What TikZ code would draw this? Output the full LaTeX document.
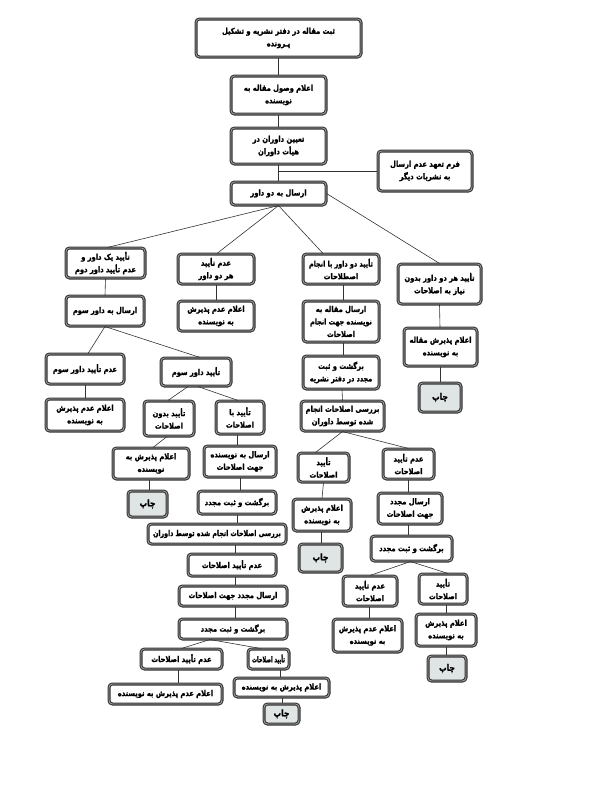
\documentclass[tikz,border=0pt]{standalone}
\usepackage{fontspec}
\usepackage{graphicx}
\usetikzlibrary{calc}
\TeXXeTstate=1
\newfontfamily\fa[Script=Arabic, BoldFont={DejaVu Sans Bold}, BoldFeatures={FakeBold=1.6}]{DejaVu Sans}
\newcommand{\RL}[2][0.84]{\scalebox{#1}[1]{\beginR #2\endR}}
\definecolor{bord}{HTML}{333333}
\definecolor{ring}{HTML}{A8A8A8}
\definecolor{chapfill}{HTML}{DFE4E4}
\begin{document}
\begin{tikzpicture}[x=1pt,y=-1pt,
  box/.style={draw=bord, line width=1.1pt, double=ring, double distance=0.8pt,
    rounded corners=3.5pt, fill=white, align=center, inner sep=1pt,
    font=\fa\bfseries\fontsize{8}{12.5}\selectfont},
  chap/.style={box, fill=chapfill, font=\fa\bfseries\fontsize{9}{12}\selectfont},
  link/.style={draw=black!80, line width=0.6pt}]
\useasboundingbox[fill=white] (0,0) rectangle (591,790);

% top chain
\node[box, minimum width=165pt, minimum height=38pt] (n1) at (278.5,38) {\RL{ثبت مقاله در دفتر نشریه و تشکیل}\\\RL{پـرونده}};
\node[box, minimum width=95pt, minimum height=38pt] (n2) at (278.5,95) {\RL{اعلام وصول مقاله به}\\\RL{نویسنده}};
\node[box, minimum width=95pt, minimum height=36pt] (n3) at (278.5,146) {\RL{تعیین داوران در}\\\RL{هیأت داوران}};
\node[box, minimum width=94pt, minimum height=40pt] (side) at (425,171) {\RL{فرم تعهد عدم ارسال}\\\RL{به نشریات دیگر}};
\node[box, minimum width=95pt, minimum height=23pt] (n4) at (278.5,193.5) {\RL{ارسال به دو داور}};

% level 2
\node[box, minimum width=79pt, minimum height=30pt] (A) at (105.5,263) {\RL{تأیید یک داور و}\\\RL{عدم تأیید داور دوم}};
\node[box, minimum width=76pt, minimum height=30pt] (B) at (216,269) {\RL{عدم تأیید}\\\RL{هر دو داور}};
\node[box, minimum width=76pt, minimum height=30pt] (C) at (341,269) {\RL[0.8]{تأیید دو داور با انجام}\\\RL{اصطلاحات}};
\node[box, minimum width=83pt, minimum height=40pt] (D) at (439.5,284) {\RL{تأیید هر دو داور بدون}\\\RL{نیاز به اصلاحات}};

\node[box, minimum width=78pt, minimum height=30pt] (A2) at (105,311) {\RL{ارسال به داور سوم}};
\node[box, minimum width=76pt, minimum height=30pt] (B2) at (216,316) {\RL{اعلام عدم پذیرش}\\\RL{به نویسنده}};
\node[box, minimum width=76pt, minimum height=41pt] (C2) at (341,321.5) {\RL{ارسال مقاله به}\\\RL[0.8]{نویسنده جهت انجام}\\\RL{اصلاحات}};
\node[box, minimum width=76pt, minimum height=33pt] (C3) at (341,372.5) {\RL{برگشت و ثبت}\\\RL[0.8]{مجدد در دفتر نشریه}};
\node[box, minimum width=73pt, minimum height=38pt] (D2) at (440.5,347) {\RL{اعلام پذیرش مقاله}\\\RL{به نویسنده}};
\node[chap, minimum width=42pt, minimum height=29pt] (D3) at (440,397.5) {\RL{چاپ}};

% middle-right chain
\node[box, minimum width=83pt, minimum height=30pt] (C4) at (342.5,416) {\RL{بررسی اصلاحات انجام}\\\RL{شده توسط داوران}};
\node[box, minimum width=51pt, minimum height=29pt] (C5) at (323.5,467.5) {\RL{تأیید}\\\RL{اصلاحات}};
\node[box, minimum width=51pt, minimum height=30pt] (C6) at (408.5,464) {\RL{عدم تأیید}\\\RL{اصلاحات}};
\node[box, minimum width=58pt, minimum height=32pt] (C7) at (322,515) {\RL{اعلام پذیرش}\\\RL{به نویسنده}};
\node[chap, minimum width=43pt, minimum height=28pt] (C8) at (320.5,558) {\RL{چاپ}};
\node[box, minimum width=64pt, minimum height=31pt] (C9) at (410,508.5) {\RL{ارسال مجدد}\\\RL{جهت اصلاحات}};
\node[box, minimum width=81pt, minimum height=25pt] (C10) at (411.5,548.5) {\RL{برگشت و ثبت مجدد}};
\node[box, minimum width=54pt, minimum height=30pt] (C11) at (370,591) {\RL{عدم تأیید}\\\RL{اصلاحات}};
\node[box, minimum width=48pt, minimum height=30pt] (C12) at (443,589) {\RL{تأیید}\\\RL{اصلاحات}};
\node[box, minimum width=69pt, minimum height=33pt] (C13) at (367.5,635.5) {\RL{اعلام عدم پذیرش}\\\RL{به نویسنده}};
\node[box, minimum width=60pt, minimum height=32pt] (C14) at (446,630) {\RL{اعلام پذیرش}\\\RL{به نویسنده}};
\node[chap, minimum width=38pt, minimum height=25pt] (C15) at (447,668.5) {\RL{چاپ}};

% left chain
\node[box, minimum width=78pt, minimum height=30pt] (L1) at (85,369) {\RL{عدم تأیید داور سوم}};
\node[box, minimum width=70pt, minimum height=28pt] (L2) at (196,372) {\RL{تأیید داور سوم}};
\node[box, minimum width=78pt, minimum height=32pt] (L3) at (85,415) {\RL{اعلام عدم پذیرش}\\\RL{به نویسنده}};
\node[box, minimum width=50pt, minimum height=35pt] (L4) at (169,418.5) {\RL{تأیید بدون}\\\RL{اصلاحات}};
\node[box, minimum width=48pt, minimum height=33pt] (L5) at (240,417.5) {\RL{تأیید با}\\\RL{اصلاحات}};
\node[box, minimum width=76pt, minimum height=31pt] (L6) at (151,463.5) {\RL{اعلام پذیرش به}\\\RL{نویسنده}};
\node[chap, minimum width=39pt, minimum height=26pt] (L7) at (147.5,504) {\RL{چاپ}};
\node[box, minimum width=72pt, minimum height=31pt] (L8) at (240,461.5) {\RL{ارسال به نویسنده}\\\RL{جهت اصلاحات}};
\node[box, minimum width=78pt, minimum height=23pt] (L9) at (237,502.5) {\RL{برگشت و ثبت مجدد}};
\node[box, minimum width=138pt, minimum height=20pt] (L10) at (217,534) {\RL[0.78]{بررسی اصلاحات انجام شده توسط داوران}};
\node[box, minimum width=88pt, minimum height=22pt] (L11) at (232,565) {\RL{عدم تأیید اصلاحات}};
\node[box, minimum width=108pt, minimum height=20pt] (L12) at (233,596) {\RL{ارسال مجدد جهت اصلاحات}};
\node[box, minimum width=108pt, minimum height=20pt] (L13) at (233,629) {\RL{برگشت و ثبت مجدد}};
\node[box, minimum width=81pt, minimum height=20pt] (L14) at (181.5,659) {\RL{عدم تأیید اصلاحات}};
\node[box, minimum width=41pt, minimum height=20pt] (L15) at (268.5,659) {\RL[0.62]{تأیید اصلاحات}};
\node[box, minimum width=113pt, minimum height=20pt] (L16) at (165.5,694) {\RL{اعلام عدم پذیرش به نویسنده}};
\node[box, minimum width=95pt, minimum height=19pt] (L17) at (281.5,687.5) {\RL{اعلام پذیرش به نویسنده}};
\node[chap, minimum width=35pt, minimum height=20pt] (L18) at (281.5,714) {\RL{چاپ}};

% connectors
\draw[link] (n1.south) -- (n2.north);
\draw[link] (n2.south) -- (n3.north);
\draw[link] (n3.south) -- (n4.north);
\coordinate (j) at (n3.south |- side.west);
\draw[link] (j) -- (side.west);

\draw[link] (n4.south) -- ($(A.north)+(2,0)$);
\draw[link] (n4.south) -- ($(B.north)+(1,0)$);
\draw[link] (n4.south) -- ($(C.north)+(-18,0)$);
\draw[link] (n4.east) -- (D.north);

\draw[link] (A.south) -- (A2.north);
\draw[link] (B.south) -- (B2.north);
\draw[link] ($(C.south)+(2,0)$) -- ($(C2.north)+(2,0)$);
\draw[link] ($(C2.south)+(2,0)$) -- ($(C3.north)+(2,0)$);
\draw[link] ($(C3.south)+(1,0)$) -- (C4.north);
\draw[link] (D.south) -- ($(D2.north)+(-0.5,0)$);
\draw[link] (D2.south) -- ($(D3.north)+(0.5,0)$);

\draw[link] (C4.south) -- ($(C5.north)+(-8,0)$);
\draw[link] (C4.south) -- (C6.north);
\draw[link] (C5.south) -- (C7.north);
\draw[link] ($(C7.south)+(-1,0)$) -- ($(C8.north)+(0.5,0)$);
\draw[link] (C6.south) -- ($(C9.north)+(-1.5,0)$);
\draw[link] ($(C9.south)+(-2,0)$) -- ($(C10.north)+(-3.5,0)$);
\draw[link] ($(C10.south)+(-1,0)$) -- (C11.north);
\draw[link] ($(C10.south)+(-1,0)$) -- ($(C12.north)+(5,0)$);
\draw[link] ($(C11.south)+(-1,0)$) -- ($(C13.north)+(1.5,0)$);
\draw[link] ($(C12.south)+(3,0)$) -- (C14.north);
\draw[link] (C14.south) -- ($(C15.north)+(-1,0)$);

\draw[link] (A2.south) -- ($(L1.north)+(3,0)$);
\draw[link] (A2.south) -- ($(L2.north)+(4,0)$);
\draw[link] (L1.south) -- (L3.north);
\draw[link] ($(L2.south)+(-8,0)$) -- ($(L4.north)+(-1,0)$);
\draw[link] ($(L2.south)+(2,0)$) -- ($(L5.north)+(-2,0)$);
\draw[link] ($(L4.south)+(-2,0)$) -- ($(L6.north)+(2,0)$);
\draw[link] ($(L6.south)+(-2,0)$) -- ($(L7.north)+(1.5,0)$);
\draw[link] ($(L5.south)+(-3,0)$) -- ($(L8.north)+(-3,0)$);
\draw[link] (L8.south) -- ($(L9.north)+(3,0)$);
\draw[link] (L9.south) -- ($(L10.north)+(20,0)$);
\draw[link] ($(L10.south)+(18,0)$) -- ($(L11.north)+(3,0)$);
\draw[link] ($(L11.south)+(3,0)$) -- ($(L12.north)+(2,0)$);
\draw[link] ($(L12.south)+(2,0)$) -- ($(L13.north)+(2,0)$);
\draw[link] ($(L13.south)+(-23,0)$) -- (L14.north);
\draw[link] ($(L13.south)+(-23,0)$) -- ($(L15.north)+(-8,0)$);
\draw[link] ($(L14.south)+(-3.5,0)$) -- ($(L16.north)+(12.5,0)$);
\draw[link] ($(L15.south)+(11.5,0)$) -- ($(L17.north)+(-1.5,0)$);
\draw[link] ($(L17.south)+(0.5,0)$) -- ($(L18.north)+(0.5,0)$);
\end{tikzpicture}
\end{document}
